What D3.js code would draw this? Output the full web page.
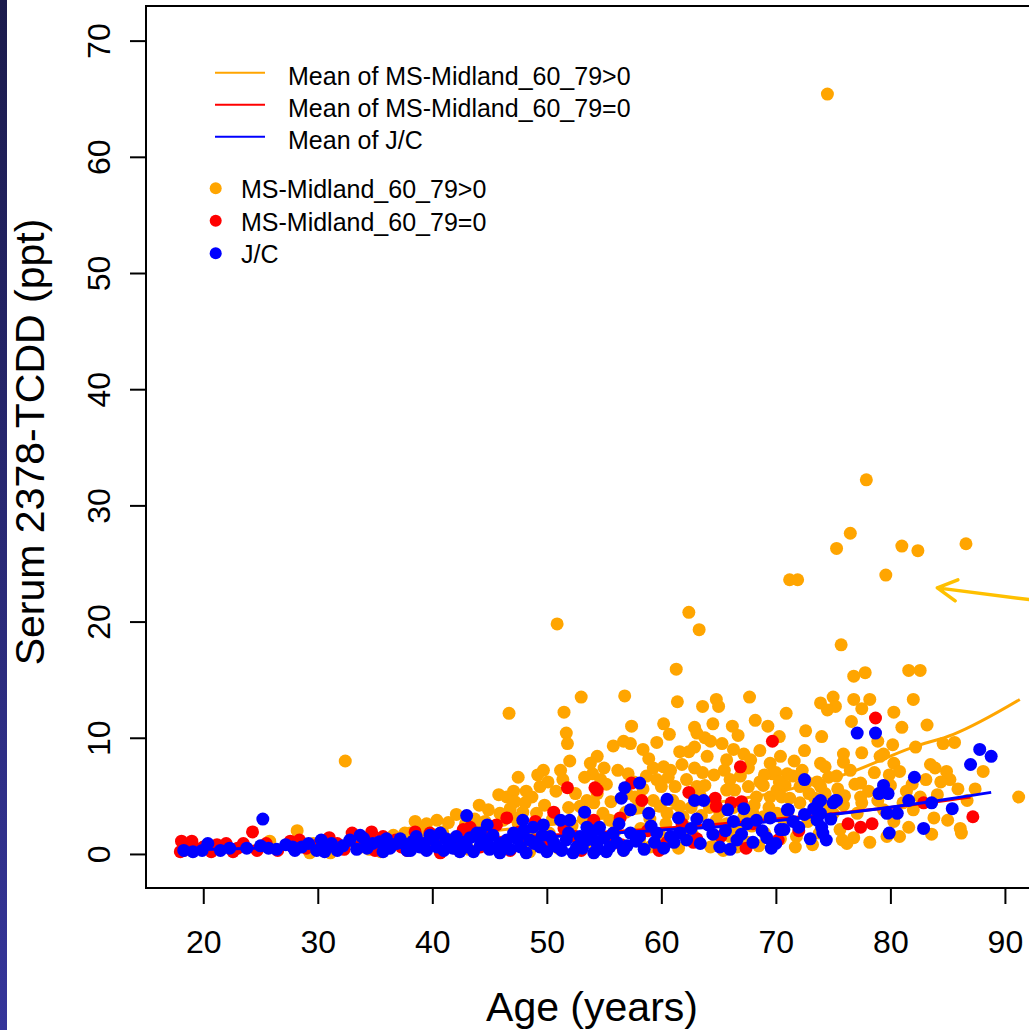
<!DOCTYPE html>
<html>
<head>
<meta charset="utf-8">
<script src="https://cdn.jsdelivr.net/npm/d3@7/dist/d3.min.js"></script>
<style>
    html, body { margin: 0; padding: 0; background: #fff; }
    svg { display: block; font-family: "Liberation Sans", Arial, sans-serif; }
</style>
</head>
<body>
<svg id="chart" width="1029" height="1030"></svg>
<script>
// Axis ticks
const ageTicks = [20, 30, 40, 50, 60, 70, 80, 90];
const tcddTicks = [0, 10, 20, 30, 40, 50, 60, 70];

// Series: [age, serum TCDD]
const msPositive = [
    [74.5, 65.4], [77.9, 32.2], [76.5, 27.6], [75.3, 26.3], [81.0, 26.5], [82.4, 26.1], [86.6, 26.7],
    [79.6, 24.0], [71.2, 23.6], [71.9, 23.6], [62.4, 20.8], [50.9, 19.8], [63.3, 19.3], [75.7, 18.0],
    [61.3, 15.9], [76.8, 15.3], [77.8, 15.6], [81.6, 15.8], [82.6, 15.8],
    [56.8, 13.6], [53.0, 13.5], [67.7, 13.5], [61.4, 13.1], [63.6, 12.7], [64.8, 13.3], [65.0, 12.7],
    [46.7, 12.1], [51.5, 12.2], [70.9, 12.1], [73.9, 13.0], [75.0, 13.5], [75.2, 12.7], [74.5, 12.4],
    [76.8, 13.3], [78.2, 13.3], [77.5, 12.5], [82.0, 13.3], [80.3, 12.2],
    [51.7, 10.4], [51.8, 9.5], [57.4, 11.0], [60.2, 11.2], [60.7, 10.3], [62.9, 10.9], [63.1, 10.4],
    [64.5, 11.2], [66.2, 11.0], [68.2, 11.5], [69.3, 11.0], [76.6, 11.4], [81.0, 10.9], [83.2, 11.1], [74.0, 10.1],
    [55.8, 9.3], [56.7, 9.7], [57.3, 9.5], [62.4, 8.8], [62.9, 9.2], [64.3, 9.7], [65.3, 9.5], [66.3, 9.0],
    [67.2, 8.6], [67.8, 8.1], [65.7, 8.1], [54.4, 8.4], [72.5, 8.9], [75.9, 8.6], [77.5, 8.7], [79.4, 8.6],
    [82.2, 9.2], [84.6, 9.5], [85.6, 9.6], [70.4, 8.4], [32.4, 8.0], [75.9, 7.9], [79.1, 8.4],
    [54.0, 6.9], [57.1, 6.9], [57.6, 6.2], [59.3, 7.4], [60.2, 7.5], [60.8, 7.2], [58.7, 6.7], [59.6, 6.4],
    [61.8, 7.7], [63.6, 7.0], [62.2, 6.4], [63.1, 5.8], [63.8, 5.9], [65.7, 5.5], [66.4, 5.5], [67.6, 5.8],
    [68.6, 6.2], [68.9, 5.9], [69.7, 6.9], [69.5, 7.8], [68.3, 4.9], [69.5, 4.9], [70.1, 5.5], [70.8, 5.9],
    [57.0, 5.2], [57.7, 4.9], [58.0, 4.1], [59.3, 4.6], [59.9, 4.1], [60.5, 3.5], [61.0, 4.6], [61.6, 4.1],
    [64.8, 2.9], [65.7, 2.6], [66.6, 2.1], [68.0, 3.5], [68.9, 3.2], [70.1, 3.5], [70.7, 2.9], [65.4, 0.3],
    [66.6, 0.6], [63.1, 1.2], [64.3, 0.6], [58.1, 1.2], [59.0, 0.6], [56.7, 0.3], [54.1, 4.4], [54.9, 3.5], [55.5, 2.9],
    [73.9, 7.8], [74.3, 7.5], [71.0, 6.9], [71.5, 6.7], [75.3, 6.7], [77.4, 6.1], [78.1, 5.4], [80.0, 5.9],
    [80.3, 7.8], [80.8, 7.1], [81.4, 5.4], [83.5, 7.7], [83.9, 7.4], [84.9, 7.1], [85.2, 6.4], [85.9, 5.6],
    [88.1, 7.1], [84.1, 5.1], [91.2, 4.9], [77.4, 4.9], [77.5, 4.4], [79.4, 3.8], [82.0, 3.8], [83.8, 3.1],
    [86.1, 2.2], [86.2, 1.8], [80.8, 1.5], [79.7, 1.5], [75.8, 1.2], [76.8, 1.4], [75.6, 2.1], [72.1, 5.8],
    [72.7, 6.2], [73.6, 6.2], [73.9, 5.8], [74.3, 5.2], [70.5, 4.9], [72.1, 4.4], [71.0, 3.5], [74.7, 4.1],
    [75.0, 3.5], [77.1, 3.5], [75.9, 4.2],
    [49.7, 7.2], [47.5, 6.6], [51.2, 7.2], [51.4, 6.4], [53.3, 6.6], [49.4, 5.8], [48.2, 5.4], [48.7, 4.9],
    [45.8, 5.1], [46.5, 4.9], [47.1, 5.4], [48.1, 4.4], [47.2, 4.5], [46.8, 3.9], [44.1, 4.2], [41.4, 2.7],
    [40.4, 2.9], [39.5, 2.6], [38.8, 2.2], [38.1, 1.8], [37.5, 1.5], [42.1, 3.4], [45.9, 3.5], [44.9, 3.8],
    [54.4, 5.2], [53.5, 4.6], [52.9, 4.1], [49.1, 3.5],
    [28.2, 2.0], [25.8, 1.1], [29.6, 0.9], [31.1, 0.1], [36.6, 1.6], [37.6, 1.8], [29.3, 0.1],
    [42.5, 1.5], [44.0, 2.2], [46.0, 1.0], [47.5, 2.6], [50.2, 1.8], [52.2, 2.4], [53.8, 1.0], [56.0, 2.0],
    [60.0, 1.5], [62.0, 2.4], [63.5, 3.3], [66.0, 1.5], [67.5, 1.0], [69.0, 1.8], [71.8, 1.5], [72.8, 2.8],
    [73.2, 0.8], [68.5, 0.7], [61.5, 0.5], [34.5, 0.4], [35.5, 0.2], [33.2, 1.0], [39.9, 0.8], [43.2, 0.4],
    [48.5, 0.2], [51.0, 0.5],
    [55.2, 6.0], [55.6, 4.5], [56.2, 7.2], [56.9, 3.6], [58.4, 5.6], [58.9, 8.2], [59.0, 3.0], [60.0, 5.8],
    [60.4, 2.6], [61.2, 5.8], [61.9, 3.2], [62.6, 4.0], [62.9, 7.4], [63.4, 5.0], [64.0, 8.4], [64.2, 4.0],
    [64.6, 6.8], [65.1, 3.6], [65.5, 7.2], [66.0, 6.4], [66.3, 4.0], [66.9, 6.7], [67.2, 3.2], [67.6, 7.4],
    [68.1, 4.2], [68.6, 8.9], [69.0, 6.8], [69.4, 4.0], [70.0, 7.0], [70.3, 6.2], [71.2, 4.8], [71.6, 8.0],
    [72.3, 7.2], [72.9, 5.2], [73.4, 4.8], [74.6, 6.6], [75.4, 5.6], [76.0, 5.0], [76.5, 7.2], [76.9, 6.0],
    [78.6, 7.0], [78.9, 4.6], [79.9, 6.8], [81.1, 4.4], [81.9, 6.0], [82.6, 4.9], [83.1, 6.4], [84.4, 6.2],
    [86.7, 4.6], [87.4, 5.6], [58.2, 2.2], [62.7, 1.7], [64.9, 1.2], [67.9, 2.4], [70.4, 1.3], [71.7, 0.6],
    [73.8, 1.8], [76.2, 0.9], [78.2, 1.0], [80.3, 2.8], [81.6, 2.3], [83.6, 1.7], [85.0, 2.9], [60.6, 6.6],
    [58.4, 9.0], [61.6, 8.8], [63.8, 10.0], [59.6, 9.6], [66.7, 10.2], [70.3, 10.1], [72.6, 10.6], [78.9, 9.7],
    [80.2, 9.4],
    [40.9, 1.9], [41.7, 1.2], [42.9, 2.6], [43.7, 3.0], [44.6, 2.8], [45.3, 2.0], [46.2, 2.9], [47.0, 3.2],
    [47.9, 3.6], [48.6, 2.0], [49.8, 4.2], [50.5, 3.0], [50.8, 5.4], [51.9, 4.0], [52.5, 5.2], [53.2, 3.0],
    [54.7, 6.4], [50.1, 6.2], [49.2, 6.8], [52.0, 8.0], [53.8, 7.8], [55.0, 7.4],
    [30.5, 1.0], [33.8, 0.6], [35.0, 1.4], [36.0, 0.8], [37.0, 1.0], [38.5, 2.8], [39.2, 1.4]
];

const msZero = [
    [78.7, 11.7], [69.7, 9.7], [66.9, 7.5], [87.2, 3.2], [76.3, 2.6], [77.4, 2.3], [78.4, 2.6], [82.9, 4.4],
    [54.4, 5.5], [58.3, 4.6], [62.4, 5.3], [64.7, 4.8], [64.8, 4.1], [66.1, 4.4], [67.0, 4.5], [54.1, 2.9],
    [63.1, 1.3], [57.4, 6.1], [51.8, 5.7], [54.2, 5.7], [50.6, 3.6], [46.5, 3.1], [49.0, 2.8], [46.8, 0.3],
    [43.3, 2.3], [42.7, 2.1], [40.7, 0.1], [37.8, 0.3], [50.0, 0.9], [39.8, 1.8], [44.9, 1.8], [24.3, 1.9],
    [18.1, 1.1], [19.0, 1.1], [18.3, 0.3], [19.3, 0.5], [22.0, 0.9], [23.5, 0.9], [24.7, 0.3], [27.6, 1.1],
    [33.0, 1.8], [34.7, 1.9], [31.7, 0.9], [34.0, 1.2], [35.7, 1.5], [18.0, 0.2], [20.7, 0.2], [22.6, 0.2],
    [52.5, 1.5], [56.5, 0.8], [60.5, 1.0], [48.0, 1.2], [41.5, 0.9], [29.0, 0.5], [36.2, 0.8], [56.4, 3.1],
    [61.8, 2.6], [72.0, 2.0], [68.0, 2.6],
    [20.0, 0.6], [21.2, 0.8], [23.0, 0.5], [25.5, 0.9], [26.5, 0.3], [28.4, 1.2], [30.0, 0.8], [31.0, 1.4],
    [32.3, 0.4], [33.6, 0.6], [35.0, 0.3], [36.8, 1.2], [37.3, 0.6], [38.5, 1.9], [39.3, 0.5], [42.0, 0.5],
    [44.2, 0.6], [45.6, 2.5], [47.6, 1.9], [49.2, 1.0], [51.5, 2.2], [53.0, 0.3], [55.7, 1.5], [58.8, 2.0],
    [59.8, 0.3], [62.8, 1.0], [65.2, 1.5], [67.4, 0.5], [70.2, 1.2]
];

const jc = [
    [77.1, 10.4], [78.7, 10.4], [87.8, 9.0], [88.8, 8.4], [87.0, 7.7], [72.5, 6.4], [82.1, 6.6], [79.4, 5.9],
    [79.0, 5.2], [79.8, 5.2], [75.3, 4.6], [75.0, 4.4], [71.1, 3.8], [73.7, 4.4], [73.9, 3.5], [73.6, 2.9],
    [74.0, 2.3], [74.1, 1.8], [73.0, 1.3], [74.4, 1.2], [72.0, 2.3], [70.4, 2.1], [81.6, 4.6], [83.6, 4.4],
    [85.4, 3.9], [79.7, 3.5], [80.6, 3.5], [82.9, 2.2], [79.9, 1.8], [73.9, 4.6], [75.2, 4.6],
    [58.1, 6.1], [56.8, 5.7], [56.5, 4.8], [60.5, 4.7], [62.9, 4.6], [63.7, 4.6], [65.8, 3.8], [67.2, 3.9],
    [71.0, 3.8], [57.3, 3.8], [58.9, 3.5], [61.5, 3.1], [63.1, 3.0], [64.1, 2.5], [66.3, 2.8], [67.5, 2.6],
    [68.3, 2.9], [69.5, 3.1], [54.6, 2.3], [55.8, 1.8], [57.3, 1.8], [58.1, 1.5], [59.6, 1.8], [60.8, 1.5],
    [61.6, 1.8], [54.1, 1.2], [55.5, 0.6], [56.7, 0.3], [65.1, 0.6], [66.6, 1.2], [69.6, 0.5], [70.7, 2.1], [54.4, 0.4],
    [43.0, 3.3], [53.3, 3.6], [44.8, 2.5], [44.2, 1.8], [47.9, 2.9], [48.8, 2.3], [49.7, 2.5], [51.2, 2.9],
    [52.0, 2.9], [53.5, 2.3],
    [37.5, 0.9], [38.6, 1.5], [38.9, 0.6], [40.1, 1.2], [40.7, 1.8], [41.5, 0.9], [42.1, 1.5], [43.0, 0.6],
    [43.9, 1.8], [44.8, 1.2], [45.6, 0.6], [46.5, 1.2], [47.1, 1.8], [47.7, 0.6], [48.5, 1.2], [49.4, 0.6],
    [50.3, 1.5], [50.9, 0.6], [51.7, 1.2], [52.6, 0.6], [53.5, 1.2], [54.4, 0.9], [38.1, 0.3], [39.5, 0.3],
    [41.0, 0.3], [42.4, 0.2], [43.6, 0.2], [45.9, 0.1], [48.2, 0.1], [50.0, 0.2], [52.3, 0.1], [54.1, 0.1],
    [25.2, 3.0],
    [18.3, 0.3], [19.1, 0.2], [19.9, 0.3], [20.4, 0.9], [21.5, 0.3], [22.3, 0.5], [23.8, 0.5], [25.0, 0.7],
    [25.7, 0.5], [28.6, 0.6], [29.9, 0.3], [30.3, 1.2], [31.2, 0.9], [31.7, 0.3], [32.8, 1.2], [34.0, 1.35],
    [34.3, 0.5], [35.4, 1.06], [35.7, 0.2], [36.9, 0.9], [37.8, 0.3],
    [38.3, 1.1], [39.2, 0.9], [39.8, 1.6], [40.4, 0.6], [41.2, 1.3], [41.8, 0.5], [42.7, 1.0], [43.3, 1.4],
    [44.2, 0.8], [45.0, 0.4], [45.3, 1.6], [46.0, 0.9], [46.8, 0.4], [47.4, 1.3], [48.0, 2.0], [48.9, 0.9],
    [49.6, 1.6], [50.6, 1.0], [51.3, 0.3], [51.9, 1.8], [52.9, 1.5], [53.1, 0.5], [53.9, 2.0], [55.0, 1.4],
    [55.2, 0.2], [56.1, 1.0], [56.3, 2.6], [57.0, 0.7], [57.8, 1.1], [58.5, 0.4], [59.1, 2.4], [59.4, 1.0],
    [60.2, 0.5], [61.1, 1.0], [62.2, 1.2], [62.6, 2.2], [63.4, 0.9], [64.5, 1.7], [65.6, 2.0], [66.0, 0.4],
    [67.0, 1.7], [68.0, 1.0], [68.8, 2.0], [69.2, 1.4], [70.0, 0.9], [71.5, 2.8], [72.5, 3.4], [73.3, 3.9],
    [74.8, 3.0],
    [26.4, 0.4], [27.2, 0.8], [28.0, 0.3], [29.2, 0.9], [30.8, 0.6], [32.2, 0.7], [33.4, 0.4], [34.8, 0.9],
    [36.3, 0.5], [37.2, 1.3], [33.7, 1.6], [36.0, 1.3], [30.6, 0.2], [27.8, 0.6]
];

// Fitted mean curves: [age, mean]
const meanPositive = [[18, 0.5], [30, 0.9], [40, 1.5], [50, 2.5], [60, 3.8], [70, 5.3], [75.9, 6.8], [82, 9.2], [85.5, 10.3], [91.3, 13.3]];
const meanZero = [[18, 0.45], [27, 0.7], [40, 1.1], [50, 1.6], [60, 2.2], [70, 3.0], [80, 4.0], [87, 4.9]];
const meanJC = [[18, 0.35], [27, 0.55], [40, 1.0], [50, 1.45], [60, 2.05], [65, 2.35], [70.4, 2.9], [79, 3.9], [83.5, 4.5], [88.8, 5.3]];

// Arrow annotation (data coords): tail -> tip
const arrowTail = [96, 21.4];
const arrowTip = [84.1, 22.9];

const series = [
    { name: 'MS-Midland_60_79>0', color: '#FFA500', pts: msPositive, mean: meanPositive },
    { name: 'MS-Midland_60_79=0', color: '#FF0000', pts: msZero, mean: meanZero },
    { name: 'J/C', color: '#0000FF', pts: jc, mean: meanJC }
];

const svg = d3.select('#chart');
const box = { left: 146, top: 6, right: 1045, bottom: 888 };

// Left navy strip
const defs = svg.append('defs');
const grad = defs.append('linearGradient').attr('id', 'strip').attr('x1', 0).attr('y1', 0).attr('x2', 0).attr('y2', 1);
grad.append('stop').attr('offset', '0%').attr('stop-color', '#1b1b4c');
grad.append('stop').attr('offset', '100%').attr('stop-color', '#35359a');
svg.append('rect').attr('x', 0).attr('y', 0).attr('width', 7).attr('height', 1030).attr('fill', 'url(#strip)');

defs.append('clipPath').attr('id', 'plotClip')
    .append('rect')
    .attr('x', box.left).attr('y', box.top)
    .attr('width', box.right - box.left).attr('height', box.bottom - box.top);

// Scales
const x = d3.scaleLinear().domain([15, 93.5]).range([box.left, box.right]);
const y = d3.scaleLinear().domain([-2.93, 72.98]).range([box.bottom, box.top]);

const plot = svg.append('g').attr('clip-path', 'url(#plotClip)');

const line = d3.line()
    .x(d => x(d[0]))
    .y(d => y(d[1]))
    .curve(d3.curveMonotoneX);

// Points, then each series' mean curve
series.forEach(s => {
    plot.append('g').selectAll('circle')
        .data(s.pts)
        .enter().append('circle')
        .attr('cx', d => x(d[0]))
        .attr('cy', d => y(d[1]))
        .attr('r', 6.5)
        .attr('fill', s.color);

    plot.append('path')
        .datum(s.mean)
        .attr('d', line)
        .attr('fill', 'none')
        .attr('stroke', s.color)
        .attr('stroke-width', 3);
});

// Box
svg.append('rect')
    .attr('x', box.left).attr('y', box.top)
    .attr('width', box.right - box.left).attr('height', box.bottom - box.top)
    .attr('fill', 'none').attr('stroke', '#000').attr('stroke-width', 2);

// Axes (R style)
const gx = svg.append('g')
    .attr('transform', `translate(0,${box.bottom})`)
    .call(d3.axisBottom(x).tickValues(ageTicks).tickSize(16));
gx.select('.domain').remove();
gx.selectAll('.tick line').attr('stroke', '#000').attr('stroke-width', 2);
gx.selectAll('.tick text')
    .attr('y', 65).attr('dy', 0)
    .attr('fill', '#000')
    .style('font-size', '32px');

const gy = svg.append('g')
    .attr('transform', `translate(${box.left},0)`)
    .call(d3.axisLeft(y).tickValues(tcddTicks).tickSize(16));
gy.select('.domain').remove();
gy.selectAll('.tick line').attr('stroke', '#000').attr('stroke-width', 2);
gy.selectAll('.tick text')
    .attr('x', 0).attr('y', -36).attr('dy', 0)
    .attr('text-anchor', 'middle')
    .attr('transform', 'rotate(-90)')
    .attr('fill', '#000')
    .style('font-size', '32px');

// Titles
svg.append('text')
    .attr('x', 592).attr('y', 1021)
    .attr('text-anchor', 'middle')
    .style('font-size', '41px')
    .text('Age (years)');

svg.append('text')
    .attr('transform', 'translate(44,442) rotate(-90)')
    .attr('text-anchor', 'middle')
    .style('font-size', '41px')
    .text('Serum 2378-TCDD (ppt)');

// Legend: mean lines
const legLines = svg.append('g');
series.forEach((s, i) => {
    const cy = 72.7 + i * 32;
    legLines.append('line')
        .attr('x1', 215).attr('x2', 265)
        .attr('y1', cy).attr('y2', cy)
        .attr('stroke', s.color).attr('stroke-width', 2);
    legLines.append('text')
        .attr('x', 288).attr('y', cy + 12.3)
        .style('font-size', '25px')
        .text('Mean of ' + s.name);
});

// Legend: points
const legPts = svg.append('g');
series.forEach((s, i) => {
    const cy = 188.3 + i * 32.5;
    legPts.append('circle')
        .attr('cx', 215.7).attr('cy', cy).attr('r', 6)
        .attr('fill', s.color);
    legPts.append('text')
        .attr('x', 241).attr('y', cy + 10)
        .style('font-size', '25px')
        .text(s.name);
});

// Arrow
const tipX = x(arrowTip[0]), tipY = y(arrowTip[1]);
const tailX = x(arrowTail[0]), tailY = y(arrowTail[1]);
const ang = Math.atan2(tailY - tipY, tailX - tipX);
const headLen = 22, spread = 0.5;
svg.append('path')
    .attr('d', `M${tailX},${tailY}L${tipX},${tipY}` +
        `M${tipX + headLen * Math.cos(ang - spread)},${tipY + headLen * Math.sin(ang - spread)}` +
        `L${tipX},${tipY}` +
        `L${tipX + headLen * Math.cos(ang + spread)},${tipY + headLen * Math.sin(ang + spread)}`)
    .attr('fill', 'none')
    .attr('stroke', '#FFC000')
    .attr('stroke-width', 3.5)
    .attr('stroke-linecap', 'round')
    .attr('stroke-linejoin', 'round');
</script>
</body>
</html>
